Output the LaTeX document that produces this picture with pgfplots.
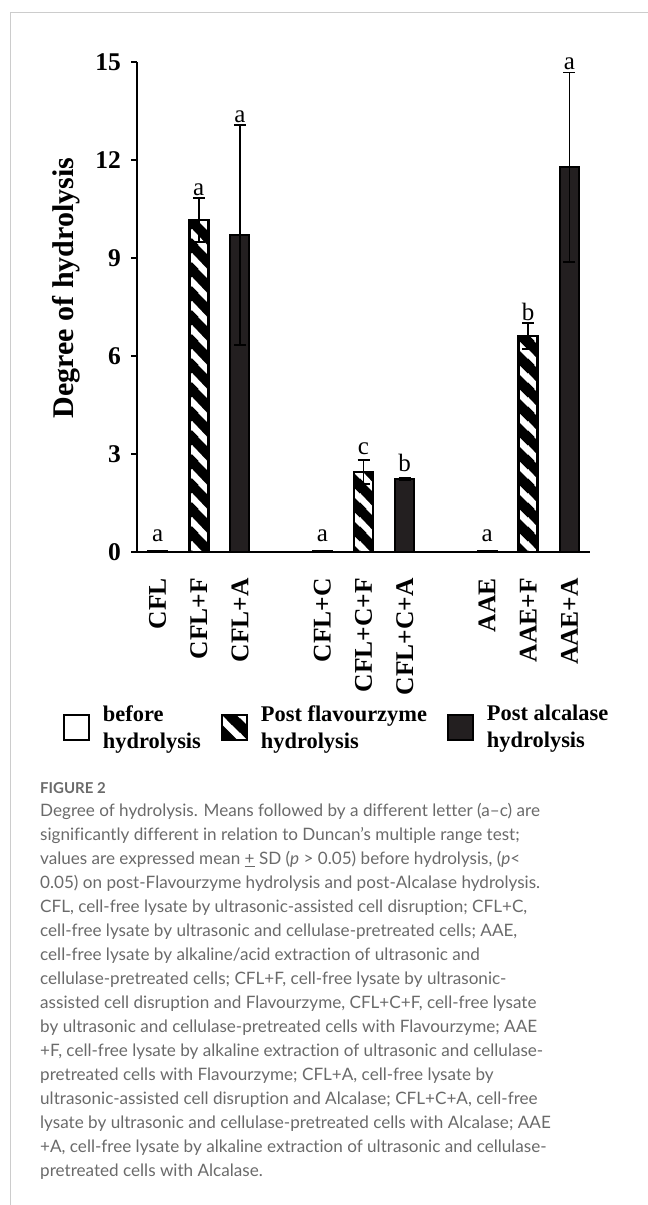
\documentclass[border=0pt]{standalone}
\usepackage{fontspec}
\setmainfont{Liberation Serif}
\newfontfamily\capfont{Lato}[Ligatures=NoCommon]
\usepackage{pgfplots}
\pgfplotsset{compat=1.18}
\usetikzlibrary{patterns}
\definecolor{capgray}{HTML}{6A6A6A}
\definecolor{framegray}{HTML}{CCCCCC}
\definecolor{darkbar}{HTML}{231F20}
\pgfdeclarepatternformonly{thickstripes}{\pgfpoint{0pt}{0pt}}{\pgfpoint{24pt}{24pt}}{\pgfpoint{24pt}{24pt}}{
  \pgfpathmoveto{\pgfpoint{17pt}{-1pt}}
  \pgfpathlineto{\pgfpoint{25pt}{-1pt}}
  \pgfpathlineto{\pgfpoint{25pt}{6pt}}
  \pgfpathlineto{\pgfpoint{6pt}{25pt}}
  \pgfpathlineto{\pgfpoint{-1pt}{25pt}}
  \pgfpathlineto{\pgfpoint{-1pt}{18pt}}
  \pgfpathclose
  \pgfpathmoveto{\pgfpoint{-1pt}{-1pt}}
  \pgfpathlineto{\pgfpoint{8pt}{-1pt}}
  \pgfpathlineto{\pgfpoint{-1pt}{8pt}}
  \pgfpathclose
  \pgfpathmoveto{\pgfpoint{25pt}{16pt}}
  \pgfpathlineto{\pgfpoint{25pt}{25pt}}
  \pgfpathlineto{\pgfpoint{16pt}{25pt}}
  \pgfpathclose
  \pgfusepath{fill}
}
\pgfplotsset{sqlegend/.style={legend image code/.code={\draw[##1, line width=2pt] (0pt,-13pt) rectangle (25pt,12pt);}},
  myerr/.style={error bars/.cd, y dir=both, y explicit,
  error bar style={line width=1.5pt, black},
  error mark options={rotate=90, black, line width=1.5pt, mark size=6pt}}}
\newcommand{\capline}[2]{\node[anchor=base west, inner sep=0pt, text=capgray, font=\capfont\fontsize{17.1}{24}\selectfont] at (40,{388-24*#1}) {#2};}
\begin{document}
\begin{tikzpicture}[x=1pt,y=1pt]
\path[use as bounding box] (0,0) rectangle (648,1205);
\draw[framegray, line width=1pt] (10,0) -- (10,1192) -- (648,1192);
\begin{axis}[
  at={(137pt,653pt)}, anchor=south west,
  scale only axis, width=453pt, height=490pt,
  xmin=-0.5, xmax=10.5, ymin=0, ymax=15,
  axis x line*=bottom, axis y line*=left,
  axis line style={line width=1.8pt, -},
  ytick={0,3,6,9,12,15},
  xtick={0,1,2,4,5,6,8,9,10},
  xticklabels={CFL,CFL+F,CFL+A,CFL+C,CFL+C+F,CFL+C+A,AAE,AAE+F,AAE+A},
  x tick style={draw=none},
  y tick style={line width=1.5pt, black},
  tick align=outside, major tick length=6pt,
  ticklabel style={font=\fontsize{25.5}{25.5}\selectfont\bfseries},
  /pgf/number format/assume math mode=true,
  xticklabel style={rotate=90, anchor=east, inner sep=0pt},
  xticklabel shift=20pt,
  yticklabel style={inner sep=0pt, xshift=-10pt},
  ylabel={Degree of hydrolysis},
  ylabel style={at={(axis description cs:-0.157,0.539)}, anchor=center, font=\fontsize{30}{30}\selectfont\bfseries},
  clip=false,
  legend columns=3,
  legend style={at={(axis description cs:-0.1634,-0.358)}, anchor=west, draw=none, fill=none,
    inner sep=0pt, outer sep=0pt,
    font=\fontsize{22.4}{27}\selectfont\bfseries,
    nodes={align=left, inner sep=0pt},
    /tikz/every even column/.append style={column sep=20pt},
    /tikz/every odd column/.append style={column sep=13pt}},
]
\addplot[ybar, bar width=19pt, bar shift=0pt, draw=black, line width=2pt, fill=white,
  sqlegend, myerr]
coordinates {(0,0.03) +- (0,0.01) (4,0.03) +- (0,0.01) (8,0.03) +- (0,0.01)};
\addlegendentry{before\\hydrolysis}
\addplot[ybar, bar width=19pt, bar shift=0pt, draw=black, line width=2.5pt,
  pattern=thickstripes, pattern color=black,
  sqlegend, myerr]
coordinates {(1,10.16) +- (0,0.67) (5,2.45) +- (0,0.37) (9,6.61) +- (0,0.40)};
\addlegendentry{Post flavourzyme\\hydrolysis}
\addplot[ybar, bar width=19pt, bar shift=0pt, draw=black, line width=2pt, fill=darkbar,
  sqlegend, myerr]
coordinates {(2,9.70) +- (0,3.37) (6,2.23) +- (0,0.03) (10,11.78) +- (0,2.90)};
\addlegendentry{Post alcalase\\hydrolysis}
\addplot[forget plot, draw=none, mark=none, nodes near coords, point meta=explicit symbolic,
  nodes near coords style={anchor=south, inner sep=0pt, yshift=2pt, black,
    font=\fontsize{25}{25}\selectfont\mdseries}]
coordinates {(0,0.245)[a] (1,10.83)[a] (2,13.07)[a] (4,0.245)[a] (5,2.91)[c] (6,2.38)[b] (8,0.245)[a] (9,7.01)[b] (10,14.68)[a]};
\end{axis}
\node[anchor=base west, inner sep=0pt, text=capgray, font=\capfont\bfseries\fontsize{15}{18}\selectfont] at (40,411) {FIGURE 2};
\capline{0}{Degree of hydrolysis. Means followed by a different letter (a–c) are}
\capline{1}{significantly different in relation to Duncan’s multiple range test;}
\capline{2}{values are expressed mean \underline{+} SD (\textit{p} > 0.05) before hydrolysis, (\textit{p}<}
\capline{3}{0.05) on post-Flavourzyme hydrolysis and post-Alcalase hydrolysis.}
\capline{4}{CFL, cell-free lysate by ultrasonic-assisted cell disruption; CFL+C,}
\capline{5}{cell-free lysate by ultrasonic and cellulase-pretreated cells; AAE,}
\capline{6}{cell-free lysate by alkaline/acid extraction of ultrasonic and}
\capline{7}{cellulase-pretreated cells; CFL+F, cell-free lysate by ultrasonic-}
\capline{8}{assisted cell disruption and Flavourzyme, CFL+C+F, cell-free lysate}
\capline{9}{by ultrasonic and cellulase-pretreated cells with Flavourzyme; AAE}
\capline{10}{+F, cell-free lysate by alkaline extraction of ultrasonic and cellulase-}
\capline{11}{pretreated cells with Flavourzyme; CFL+A, cell-free lysate by}
\capline{12}{ultrasonic-assisted cell disruption and Alcalase; CFL+C+A, cell-free}
\capline{13}{lysate by ultrasonic and cellulase-pretreated cells with Alcalase; AAE}
\capline{14}{+A, cell-free lysate by alkaline extraction of ultrasonic and cellulase-}
\capline{15}{pretreated cells with Alcalase.}
\end{tikzpicture}
\end{document}
